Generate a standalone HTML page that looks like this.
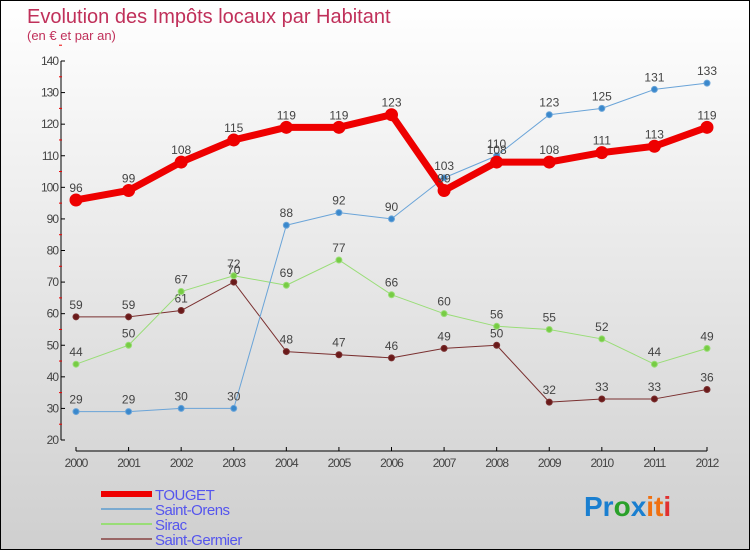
<!DOCTYPE html>
<html><head><meta charset="utf-8"><style>
body{margin:0;}
#wrap{width:750px;height:550px;position:relative;box-sizing:border-box;border:1px solid #000;background:linear-gradient(#ffffff,#cfcfcf);font-family:"Liberation Sans",sans-serif;overflow:hidden}
</style></head><body>
<div id="wrap">
<svg id="svg" width="748" height="548" xmlns="http://www.w3.org/2000/svg" style="position:absolute;left:0;top:0">
<text x="26" y="22" font-size="20" fill="#c0305a">Evolution des Impôts locaux par Habitant</text>
<text x="26" y="39" font-size="13" fill="#c0305a">(en € et par an)</text>
<g id="axes"></g><g id="series"></g><g id="legend"></g>
<text x="583" y="515" font-size="28" font-weight="bold"><tspan fill="#1a7fd0">Pr</tspan><tspan fill="#2aa02a">o</tspan><tspan fill="#1a7fd0">x</tspan><tspan fill="#f07010">it</tspan><tspan fill="#e03030">i</tspan></text>
</svg>
</div>
<script>
const years=[2000,2001,2002,2003,2004,2005,2006,2007,2008,2009,2010,2011,2012];
const touget=[96,99,108,115,119,119,123,99,108,108,111,113,119];
const saintOrens=[29,29,30,30,88,92,90,103,110,123,125,131,133];
const sirac=[44,50,67,72,69,77,66,60,56,55,52,44,49];
const saintGermier=[59,59,61,70,48,47,46,49,50,32,33,33,36];
const yTicks=[20,30,40,50,60,70,80,90,100,110,120,130,140];
const NS="http://www.w3.org/2000/svg";
function X(i){return 75+i*(706-75)/(years.length-1);}
function Y(v){return 439-(v-20)*(439-60)/120;}
function mk(t,a,p){const e=document.createElementNS(NS,t);for(const k in a)e.setAttribute(k,a[k]);p.appendChild(e);return e;}
const ax=document.getElementById('axes');
let l=mk('line',{x1:60,y1:60,x2:60,y2:439,stroke:'#000','stroke-width':1},ax);


yTicks.forEach(v=>{
 mk('line',{x1:60,x2:64,y1:Y(v),y2:Y(v),stroke:'#000'},ax);
 mk('line',{x1:58,x2:61,y1:Y(v+5),y2:Y(v+5),stroke:'#e00'},ax);
 const t=mk('text',{x:57,y:Y(v)+4,'font-size':12,fill:'#444','text-anchor':'end','letter-spacing':'-1'},ax);
 t.textContent=v;
 
 
});
l=mk('line',{x1:75,y1:450,x2:706,y2:450,stroke:'#000'},ax);


years.forEach((y,i)=>{
 mk('line',{x1:X(i),x2:X(i),y1:446,y2:450,stroke:'#000'},ax);
 const t=mk('text',{x:X(i),y:466,'font-size':12,fill:'#444','text-anchor':'middle','letter-spacing':'-1'},ax);
 t.textContent=y;
 
 
});
const sg=document.getElementById('series');
function draw(data,color,w,r,name,pc){
 const g=mk('g',{},sg);
 
 
 mk('polyline',{points:data.map((v,i)=>X(i)+','+Y(v)).join(' '),fill:'none',stroke:color,'stroke-width':w,'stroke-linejoin':'round'},g);
 data.forEach((v,i)=>{
  const c=mk('circle',{cx:X(i),cy:Y(v),r:r,fill:pc,stroke:color,'stroke-width':1},g);
  
  
  const t=mk('text',{x:X(i),y:Y(v)-8,'font-size':12,fill:'#444','text-anchor':'middle'},g);
  t.textContent=v;
  
  
 });
}
draw(saintGermier,'#7a3030',1,3,'saint-germier','#6a1a1a');
draw(sirac,'#99dd77',1,3,'sirac','#77cc44');
draw(saintOrens,'#6aa4d8',1,3,'saint-orens','#3a88cc');
draw(touget,'#ee0000',7,6,'touget','#ee0000');
const lg=document.getElementById('legend');
const items=[['TOUGET','#ee0000',6],['Saint-Orens','#7aaad0',2],['Sirac','#99dd77',2],['Saint-Germier','#996666',2]];
items.forEach((it,i)=>{
 const y=493+i*15;
 mk('line',{x1:100,x2:151,y1:y,y2:y,stroke:it[1],'stroke-width':it[2]},lg);
 const t=mk('text',{x:154,y:y+6,'font-size':15,fill:'#5555ee','letter-spacing':'-0.5'},lg);
 t.textContent=it[0];
 
 
});
</script>
</body></html>
